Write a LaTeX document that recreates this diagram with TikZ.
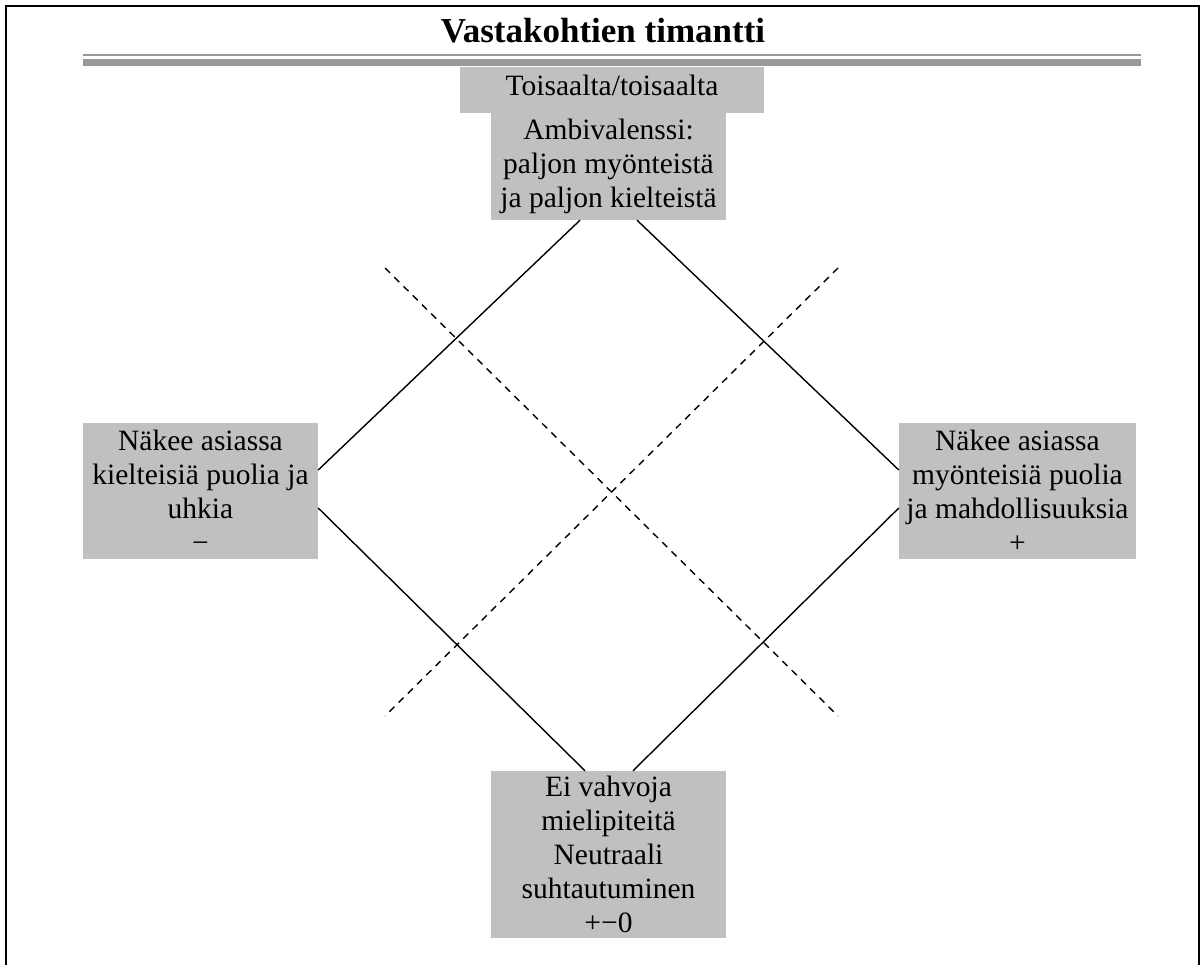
\documentclass[tikz,border=0pt]{standalone}
\usepackage{fontspec}
\setmainfont{Liberation Serif}
\usetikzlibrary{calc}
\definecolor{boxgray}{HTML}{C0C0C0}
\definecolor{rulegray}{HTML}{999999}
\begin{document}
\begin{tikzpicture}[x=1pt,y=-1pt,
  box/.style={fill=boxgray, inner sep=0pt, align=center,
    font=\fontsize{29.5}{34}\selectfont},
  link/.style={line width=1.4pt, black},
  axis/.style={line width=1.4pt, black, dash pattern=on 7pt off 6pt},
  frame/.style={line width=2.4pt, black}]
\useasboundingbox (0,0) rectangle (1204,965);

% open frame
\draw[frame] (6,965) -- (6,6) -- (1199,6) -- (1199,965);

% title and double rule
\node[anchor=base, inner sep=0pt, font=\fontsize{35}{40}\selectfont\bfseries]
  (title) at (603,43) {Vastakohtien timantti};
\fill[rulegray] (83,54) rectangle (1141,56.5);
\fill[rulegray] (83,59) rectangle (1141,66);

% boxes
\node[box, minimum width=304pt, minimum height=46pt, text depth=9pt] (top1) at (612,90)
  {Toisaalta/toisaalta};
\node[box, minimum width=235pt, minimum height=107pt] (top2) at (608.5,166.5)
  {Ambivalenssi:\\paljon myönteistä\\ja paljon kielteistä};
\node[box, minimum width=235pt, minimum height=136pt] (left) at (200.5,491)
  {Näkee asiassa\\kielteisiä puolia ja\\uhkia\\−};
\node[box, minimum width=237pt, minimum height=136pt] (right) at (1017.5,491)
  {Näkee asiassa\\myönteisiä puolia\\ja mahdollisuuksia\\+};
\node[box, minimum width=235pt, minimum height=167pt] (bottom) at (608.5,854.5)
  {Ei vahvoja\\mielipiteitä\\Neutraali\\suhtautuminen\\+−0};

% diamond edges
\draw[link] ($(top2.south)+(-28.5,0)$) -- ($(left.east)+(0,-21)$);
\draw[link] ($(top2.south)+(28.5,0)$) -- ($(right.west)+(0,-21)$);
\draw[link] ($(left.east)+(0,17)$) -- ($(bottom.north)+(-23.5,0)$);
\draw[link] ($(right.west)+(0,17)$) -- ($(bottom.north)+(24.5,0)$);

% dashed diagonals
\coordinate (dtl) at (385,268);
\coordinate (dbr) at (838,716);
\coordinate (dtr) at (838,268);
\coordinate (dbl) at (385,716);
\draw[axis] (dtl) -- (dbr);
\draw[axis] (dtr) -- (dbl);
\end{tikzpicture}
\end{document}
